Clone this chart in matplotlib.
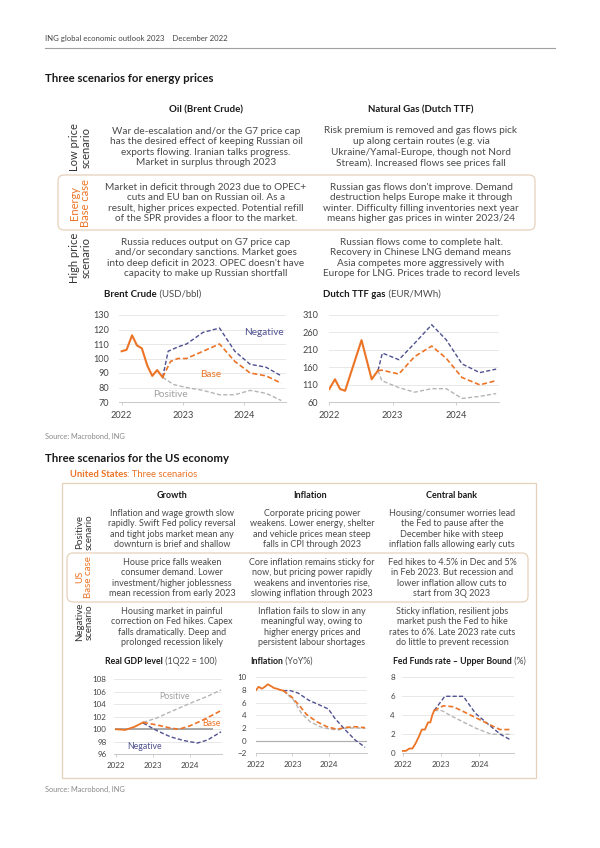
import matplotlib
matplotlib.use('Agg')
import matplotlib.pyplot as plt
from matplotlib.patches import FancyBboxPatch, Rectangle

plt.rcParams['font.family'] = ['Lato', 'DejaVu Sans']

W, H = 600, 848
ORANGE = '#ec7426'
NAVY = '#4f5190'
GREY = '#b5b5b5'
BODY = '#4a4a4a'
INK = '#1a1a1a'
EDGE = '#e6d2bb'
GRID = '#e8e8e8'

# ---- energy table ----
energy_cols = ['Oil (Brent Crude)', 'Natural Gas (Dutch TTF)']
energy_rows = ['Low price\nscenario', 'Energy\nBase case', 'High price\nscenario']
oil_text = [
    'War de-escalation and/or the G7 price cap\nhas the desired effect of keeping Russian oil\n'
    'exports flowing. Iranian talks progress.\nMarket in surplus through 2023',
    'Market in deficit through 2023 due to OPEC+\ncuts and EU ban on Russian oil. As a\n'
    'result, higher prices expected. Potential refill\nof the SPR provides a floor to the market.',
    'Russia reduces output on G7 price cap\nand/or secondary sanctions. Market goes\n'
    "into deep deficit in 2023. OPEC doesn't have\ncapacity to make up Russian shortfall",
]
gas_text = [
    'Risk premium is removed and gas flows pick\nup along certain routes (e.g. via\n'
    'Ukraine/Yamal-Europe, though not Nord\nStream). Increased flows see prices fall',
    "Russian gas flows don't improve. Demand\ndestruction helps Europe make it through\n"
    'winter. Difficulty filling inventories next year\nmeans higher gas prices in winter 2023/24',
    'Russian flows come to complete halt.\nRecovery in Chinese LNG demand means\n'
    'Asia competes more aggressively with\nEurope for LNG. Prices trade to record levels',
]

# ---- US table ----
us_cols = ['Growth', 'Inflation', 'Central bank']
us_rows = ['Positive\nscenario', 'US\nBase case', 'Negative\nscenario']
us_text = [
    ['Inflation and wage growth slow\nrapidly. Swift Fed policy reversal\n'
     'and tight jobs market mean any\ndownturn is brief and shallow',
     'Corporate pricing power\nweakens. Lower energy, shelter\n'
     'and vehicle prices mean steep\nfalls in CPI through 2023',
     'Housing/consumer worries lead\nthe Fed to pause after the\n'
     'December hike with steep\ninflation falls allowing early cuts'],
    ['House price falls weaken\nconsumer demand. Lower\n'
     'investment/higher joblessness\nmean recession from early 2023',
     'Core inflation remains sticky for\nnow, but pricing power rapidly\n'
     'weakens and inventories rise,\nslowing inflation through 2023',
     'Fed hikes to 4.5% in Dec and 5%\nin Feb 2023. But recession and\n'
     'lower inflation allow cuts to\nstart from 3Q 2023'],
    ['Housing market in painful\ncorrection on Fed hikes. Capex\n'
     'falls dramatically. Deep and\nprolonged recession likely',
     'Inflation fails to slow in any\nmeaningful way, owing to\n'
     'higher energy prices and\npersistent labour shortages',
     'Sticky inflation, resilient jobs\nmarket push the Fed to hike\n'
     'rates to 6%. Late 2023 rate cuts\ndo little to prevent recession'],
]

# ---- Brent crude (USD/bbl) ----
brent_x = [2022.0, 2022.08, 2022.17, 2022.25, 2022.33, 2022.42, 2022.5, 2022.58, 2022.67]
brent = [105, 106, 116, 109, 107, 95, 88, 92, 87]
brent_neg_x = [2022.67, 2022.76, 2022.92, 2023.06, 2023.33, 2023.6, 2023.85, 2024.1, 2024.36, 2024.61]
brent_neg = [87, 105, 108, 110, 118, 121, 105, 96, 94, 88]
brent_base_x = [2022.67, 2022.8, 2022.92, 2023.06, 2023.33, 2023.6, 2023.85, 2024.1, 2024.36, 2024.61]
brent_base = [87, 98, 100, 100, 105, 110, 98, 90, 88, 83]
brent_pos_x = [2022.67, 2022.85, 2023.06, 2023.33, 2023.6, 2023.85, 2024.1, 2024.36, 2024.61]
brent_pos = [87, 82, 80, 78, 75, 75, 78, 76, 71]

# ---- Dutch TTF gas (EUR/MWh) ----
ttf_x = [2022.0, 2022.09, 2022.17, 2022.25, 2022.51, 2022.67, 2022.77]
ttf = [98, 126, 98, 93, 238, 126, 151]
ttf_neg_x = [2022.77, 2022.84, 2023.1, 2023.35, 2023.62, 2023.85, 2024.1, 2024.38, 2024.64]
ttf_neg = [151, 201, 182, 229, 282, 239, 170, 145, 155]
ttf_base_x = [2022.77, 2022.83, 2023.1, 2023.35, 2023.62, 2023.85, 2024.1, 2024.38, 2024.64]
ttf_base = [151, 152, 141, 191, 221, 186, 131, 110, 122]
ttf_pos_x = [2022.77, 2022.83, 2023.1, 2023.35, 2023.62, 2023.85, 2024.1, 2024.38, 2024.64]
ttf_pos = [151, 122, 102, 89, 99, 99, 71, 77, 85]

# ---- Real GDP level (1Q22 = 100) ----
gdp_x = [2022.0, 2022.25, 2022.5, 2022.73]
gdp = [100.0, 99.9, 100.4, 101.1]
gdp_pos_x = [2022.73, 2023.1, 2023.47, 2024.02, 2024.48, 2024.84]
gdp_pos = [101.1, 101.8, 102.8, 104.2, 105.3, 106.3]
gdp_base_x = [2022.73, 2023.1, 2023.47, 2023.7, 2024.02, 2024.39, 2024.84]
gdp_base = [101.1, 100.7, 100.2, 100.0, 100.6, 101.6, 103.0]
gdp_neg_x = [2022.73, 2023.1, 2023.47, 2023.83, 2024.2, 2024.48, 2024.84]
gdp_neg = [101.0, 99.8, 98.8, 98.2, 97.8, 98.3, 99.6]

# ---- Inflation (YoY%) ----
cpi_x = [2022.0, 2022.08, 2022.17, 2022.25, 2022.33, 2022.42, 2022.5, 2022.58, 2022.67, 2022.75]
cpi = [7.9, 8.5, 8.2, 8.5, 8.9, 8.6, 8.3, 8.2, 8.0, 7.9]
cpi_neg_x = [2022.75, 2022.94, 2023.16, 2023.44, 2023.75, 2023.98, 2024.16, 2024.44, 2024.71, 2024.98]
cpi_neg = [7.9, 7.9, 7.5, 6.4, 5.6, 5.0, 3.5, 1.7, 0.1, -1.05]
cpi_base_x = [2022.75, 2022.98, 2023.21, 2023.39, 2023.66, 2023.94, 2024.21, 2024.48, 2024.71, 2024.98]
cpi_base = [7.9, 6.9, 5.4, 4.1, 3.0, 2.2, 1.8, 2.1, 2.2, 2.05]
cpi_pos_x = [2022.75, 2023.03, 2023.25, 2023.48, 2023.75, 2024.03, 2024.26, 2024.48, 2024.71, 2024.98]
cpi_pos = [7.9, 6.4, 4.3, 3.0, 2.2, 1.8, 1.7, 2.0, 2.0, 1.95]

# ---- Fed funds rate, upper bound (%) ----
fed_x = [2022.0, 2022.08, 2022.17, 2022.25, 2022.33, 2022.42, 2022.5, 2022.58, 2022.66, 2022.72, 2022.77, 2022.82]
fed = [0.25, 0.25, 0.5, 0.5, 1.0, 1.75, 2.5, 2.5, 3.25, 3.25, 4.0, 4.5]
fed_neg_x = [2022.82, 2023.1, 2023.3, 2023.58, 2023.9, 2024.25, 2024.55, 2024.82]
fed_neg = [4.5, 6.0, 6.0, 6.0, 4.2, 3.0, 2.0, 1.4]
fed_base_x = [2022.82, 2023.06, 2023.32, 2023.58, 2023.93, 2024.28, 2024.54, 2024.84]
fed_base = [4.5, 5.0, 4.9, 4.4, 3.7, 3.0, 2.5, 2.5]
fed_pos_x = [2022.82, 2023.02, 2023.28, 2023.58, 2023.93, 2024.32, 2024.58, 2024.84]
fed_pos = [4.5, 4.5, 3.9, 3.3, 2.6, 2.0, 2.0, 2.0]

years = [2022, 2023, 2024]

fig = plt.figure(figsize=(W / 100, H / 100), dpi=100)
fig.patch.set_facecolor('white')

# page layer in pixel coordinates
bg = fig.add_axes([0, 0, 1, 1])
bg.set_xlim(0, W)
bg.set_ylim(H, 0)
bg.axis('off')


def T(x, y, s, size=7.2, color=BODY, weight='normal', ha='center', va='center', **kw):
    return bg.text(x, y, s, fontsize=size, color=color, fontweight=weight,
                   ha=ha, va=va, **kw)


def two_part(x, y, bold, rest, size, c1=INK, c2=BODY):
    t = T(x, y, bold, size=size, color=c1, weight='bold', ha='left', va='bottom')
    bg.annotate(rest, xy=(1, 0), xycoords=t, fontsize=size, color=c2,
                ha='left', va='bottom')


def box(x0, y0, x1, y1, r, ec, lw=0.9):
    bg.add_patch(FancyBboxPatch((x0 + r, y0 + r), x1 - x0 - 2 * r, y1 - y0 - 2 * r,
                                boxstyle='round,pad=%g' % r, fc='none', ec=ec, lw=lw))


# header
T(45, 39, 'ING global economic outlook 2023    December 2022', size=5.6, color='#444444', ha='left')
bg.plot([45, 555], [48, 48], color='#a0a0a0', lw=0.8)
T(45, 78, 'Three scenarios for energy prices', size=8.2, color=INK, weight='bold', ha='left')

# energy table
for x, c in zip([206, 421], energy_cols):
    T(x, 110, c, size=7.0, color=INK, weight='bold')
box(58, 175, 535, 230, 6, EDGE)
for i, (yc, lab) in enumerate(zip([147, 203, 258], energy_rows)):
    T(80, yc, lab, size=8.0, color=ORANGE if i == 1 else '#333333', rotation=90,
      multialignment='center', linespacing=1.05)
    T(206, yc, oil_text[i], linespacing=1.22)
    T(421, yc, gas_text[i], linespacing=1.22)


def chart(px0, px1, py0, py1, xlim, ylim, yticks, fs, ypad, xpad):
    ax = fig.add_axes([px0 / W, 1 - py1 / H, (px1 - px0) / W, (py1 - py0) / H])
    ax.set_xlim(xlim)
    ax.set_ylim(ylim)
    ax.set_yticks(yticks)
    ax.set_xticks(years)
    ax.set_xticklabels([str(y) for y in years])
    ax.patch.set_alpha(0)
    for s in ['top', 'right', 'left']:
        ax.spines[s].set_visible(False)
    ax.spines['bottom'].set_color('#c8c8c8')
    ax.spines['bottom'].set_linewidth(0.7)
    ax.grid(axis='y', color=GRID, lw=0.7)
    ax.set_axisbelow(True)
    ax.tick_params(axis='y', length=0, pad=ypad, labelsize=fs, labelcolor='#444444')
    ax.tick_params(axis='x', length=2.2, width=0.6, color='#c8c8c8', pad=xpad,
                   labelsize=fs, labelcolor='#444444')
    return ax


def lines(ax, ax_, a, nx, n, bx, b, px, p, lw=1.5):
    ax.plot(px, p, color=GREY, lw=1.0, dashes=(3, 1.6))
    ax.plot(nx, n, color=NAVY, lw=1.0, dashes=(3, 1.6))
    ax.plot(bx, b, color=ORANGE, lw=1.2, dashes=(3, 1.6))
    ax.plot(ax_, a, color=ORANGE, lw=lw)


# Brent chart
two_part(104, 299, 'Brent Crude', ' (USD/bbl)', 6.9)
ax1 = chart(118.6, 285.6, 315, 402, (2021.95, 2024.68), (70, 130), range(70, 131, 10), 6.6, 7, 4)
lines(ax1, brent_x, brent, brent_neg_x, brent_neg, brent_base_x, brent_base, brent_pos_x, brent_pos)
ax1.text(2024.33, 117.6, 'Negative', color=NAVY, fontsize=7.2, ha='center', va='center')
ax1.text(2023.46, 89.3, 'Base', color=ORANGE, fontsize=7.2, ha='center', va='center')
ax1.text(2022.8, 75.5, 'Positive', color='#a0a0a0', fontsize=7.2, ha='center', va='center')

# TTF chart
two_part(323, 299, 'Dutch TTF gas', ' (EUR/MWh)', 6.9)
ax2 = chart(329.3, 498.7, 315, 402.3, (2022.0, 2024.68), (60, 310), range(60, 311, 50), 6.6, 8, 4)
lines(ax2, ttf_x, ttf, ttf_neg_x, ttf_neg, ttf_base_x, ttf_base, ttf_pos_x, ttf_pos)

T(45, 436, 'Source: Macrobond, ING', size=5.3, color='#888888', ha='left')

# US section
T(45, 458, 'Three scenarios for the US economy', size=8.2, color=INK, weight='bold', ha='left')
two_part(70, 479, 'United States', ': Three scenarios', 6.8, c1=ORANGE, c2=ORANGE)
bg.add_patch(Rectangle((62, 483), 474, 295, fc='none', ec=EDGE, lw=0.9))
box(67, 553, 528, 602, 6, EDGE)
for x, c in zip([172, 310, 452], us_cols):
    T(x, 496, c, size=6.5, color=INK, weight='bold')
for i, (yc, lab) in enumerate(zip([529, 578, 627], us_rows)):
    T(84, [532, 577, 622][i], lab, size=7.0, color=ORANGE if i == 1 else '#333333',
      rotation=90, multialignment='center', linespacing=1.05)
    for x, s in zip([172, 312, 452], us_text[i]):
        T(x, yc, s, size=6.5, linespacing=1.2)

# GDP chart
two_part(105, 666, 'Real GDP level', ' (1Q22 = 100)', 6.3)
ax3 = chart(114.2, 221.8, 679.3, 754.3, (2021.95, 2024.86), (96, 108), range(96, 109, 2), 5.8, 5.5, 3)
ax3.plot([2022.0, 2024.6], [100, 100], color='#a8a8a8', lw=1.4)
lines(ax3, gdp_x, gdp, gdp_neg_x, gdp_neg, gdp_base_x, gdp_base, gdp_pos_x, gdp_pos, lw=1.3)
ax3.text(2023.58, 105.2, 'Positive', color='#a0a0a0', fontsize=6.3, ha='center', va='center')
ax3.text(2024.58, 101.0, 'Base', color=ORANGE, fontsize=6.3, ha='center', va='center')
ax3.text(2022.76, 97.2, 'Negative', color=NAVY, fontsize=6.3, ha='center', va='center')

# Inflation chart
two_part(250, 666, 'Inflation', ' (YoY%)', 6.3)
ax4 = chart(255.7, 366.9, 677.3, 753.3, (2022.0, 2025.03), (-2, 10), range(-2, 11, 2), 5.8, 6.5, 3)
ax4.axhline(0, color='#b0b0b0', lw=0.9)
lines(ax4, cpi_x, cpi, cpi_neg_x, cpi_neg, cpi_base_x, cpi_base, cpi_pos_x, cpi_pos, lw=1.3)

# Fed funds chart
two_part(393, 666, 'Fed Funds rate \u2013 Upper Bound', ' (%)', 6.3)
ax5 = chart(401.6, 513.8, 677.3, 753.3, (2021.97, 2024.9), (0, 8), range(0, 9, 2), 5.8, 4.7, 3)
lines(ax5, fed_x, fed, fed_neg_x, fed_neg, fed_base_x, fed_base, fed_pos_x, fed_pos, lw=1.3)

T(45, 789, 'Source: Macrobond, ING', size=5.3, color='#888888', ha='left')

fig.savefig('out.png', dpi=100)
